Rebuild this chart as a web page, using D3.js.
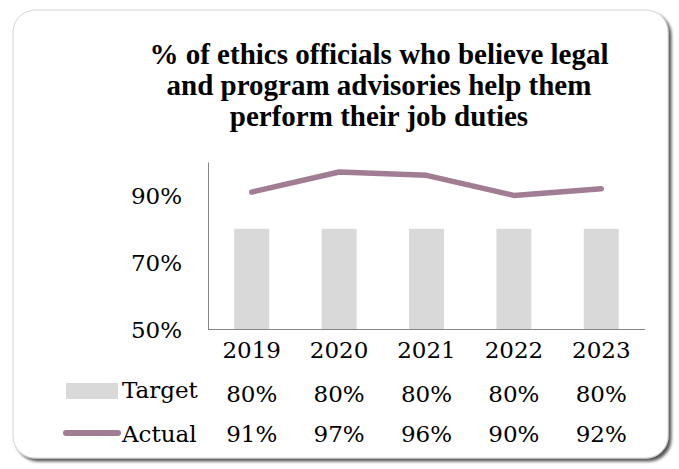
<!DOCTYPE html>
<html>
<head>
<meta charset="utf-8">
<script src="https://cdn.jsdelivr.net/npm/d3@7"></script>
<style>
  body { margin: 0; background: #ffffff; }
  svg text { fill: #000; }
</style>
</head>
<body>
<svg id="chart" width="679" height="469"></svg>
<script>
(function(){
    "use strict";

    var years = ["2019", "2020", "2021", "2022", "2023"];
    var targetValues = [80, 80, 80, 80, 80];
    var actualValues = [91, 97, 96, 90, 92];
    var yTicks = [50, 70, 90];
    var titleLines = [
        "% of ethics officials who believe legal",
        "and program advisories help them",
        "perform their job duties"
    ];

    var numFont = "'DejaVu Serif', serif";
    var titleFont = "'Liberation Serif', serif";
    var barColor = "#d9d9d9";
    var lineColor = "#a07d93";

    var plot = {left: 208, right: 645, top: 162, bottom: 329};

    var svg = d3.select("#chart");

    // frame with shadow
    var defs = svg.append("defs");
    var filter = defs.append("filter").attr("id", "shadow")
        .attr("x", "-5%").attr("y", "-5%").attr("width", "115%").attr("height", "115%");
    filter.append("feDropShadow")
        .attr("dx", 3).attr("dy", 3).attr("stdDeviation", 1.8)
        .attr("flood-color", "#000").attr("flood-opacity", 0.65);

    svg.append("rect")
        .attr("x", 13).attr("y", 10)
        .attr("width", 655).attr("height", 448)
        .attr("rx", 22).attr("ry", 22)
        .attr("fill", "#fff")
        .attr("stroke", "#d4d4d4")
        .attr("stroke-width", 1)
        .attr("filter", "url(#shadow)");

    // title
    svg.append("g").selectAll("text")
        .data(titleLines)
        .enter().append("text")
        .attr("x", 379)
        .attr("y", function(d, i){ return 64 + i * 31; })
        .attr("text-anchor", "middle")
        .attr("font-family", titleFont)
        .attr("font-weight", "bold")
        .attr("font-size", 29)
        .text(function(d){ return d; });

    var x = d3.scaleBand()
        .domain(years)
        .range([plot.left, plot.right])
        .paddingInner(0.6)
        .paddingOuter(0.3);

    var y = d3.scaleLinear()
        .domain([50, 100])
        .range([plot.bottom, plot.top]);

    // bars
    svg.append("g").selectAll("rect")
        .data(years)
        .enter().append("rect")
        .attr("x", function(d){ return x(d); })
        .attr("y", function(d, i){ return y(targetValues[i]); })
        .attr("width", x.bandwidth())
        .attr("height", function(d, i){ return y(50) - y(targetValues[i]); })
        .attr("fill", barColor);

    // axes
    var yAxis = d3.axisLeft(y).tickValues(yTicks).tickSize(0)
        .tickFormat(function(d){ return d + "%"; });
    var gy = svg.append("g")
        .attr("transform", "translate(" + plot.left + ",0)")
        .call(yAxis);
    gy.select(".domain").attr("stroke", "#868686");
    gy.selectAll("text")
        .attr("x", -26)
        .attr("dy", "0.36em")
        .attr("font-family", numFont)
        .attr("font-size", 23)
        .attr("fill", "#000");

    var xAxis = d3.axisBottom(x).tickSize(0).tickFormat(function(){ return ""; });
    var gx = svg.append("g")
        .attr("transform", "translate(0," + plot.bottom + ")")
        .call(xAxis);
    gx.select(".domain").attr("stroke", "#868686")
        .attr("d", "M" + plot.left + ",0.5H" + plot.right);

    // line
    var line = d3.line()
        .x(function(d, i){ return x(years[i]) + x.bandwidth() / 2; })
        .y(function(d){ return y(d); });

    svg.append("path")
        .datum(actualValues)
        .attr("d", line)
        .attr("fill", "none")
        .attr("stroke", lineColor)
        .attr("stroke-width", 5.5)
        .attr("stroke-linecap", "round")
        .attr("stroke-linejoin", "round");

    // data table
    var table = svg.append("g")
        .attr("font-family", numFont)
        .attr("font-size", 23);

    var rows = [
        {values: years, base: 358},
        {values: targetValues.map(function(v){ return v + "%"; }), base: 402},
        {values: actualValues.map(function(v){ return v + "%"; }), base: 442}
    ];

    rows.forEach(function(r){
        table.append("g").selectAll("text")
            .data(r.values)
            .enter().append("text")
            .attr("x", function(d, i){ return x(years[i]) + x.bandwidth() / 2; })
            .attr("y", r.base)
            .attr("text-anchor", "middle")
            .text(function(d){ return d; });
    });

    // legend keys
    table.append("rect")
        .attr("x", 66).attr("y", 383)
        .attr("width", 52).attr("height", 16)
        .attr("fill", barColor);
    table.append("text").attr("x", 122).attr("y", 398).text("Target");

    table.append("line")
        .attr("x1", 66).attr("x2", 118)
        .attr("y1", 433).attr("y2", 433)
        .attr("stroke", lineColor)
        .attr("stroke-width", 6)
        .attr("stroke-linecap", "round");
    table.append("text").attr("x", 122).attr("y", 442).text("Actual");
}());
</script>
</body>
</html>
